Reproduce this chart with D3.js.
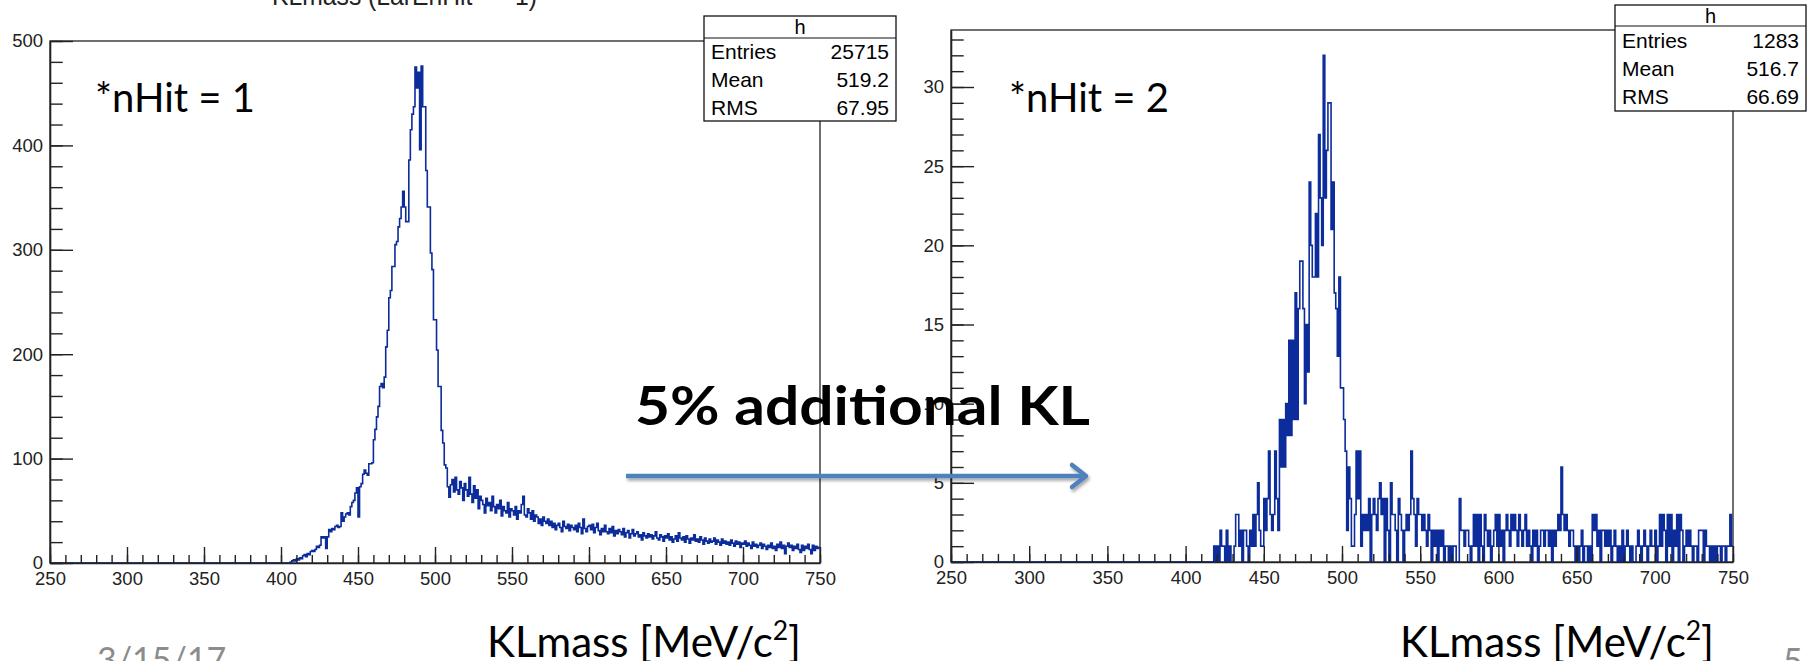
<!DOCTYPE html>
<html>
<head>
<meta charset="utf-8">
<script src="https://cdn.jsdelivr.net/npm/d3@7"></script>
<style>
  body { margin: 0; background: #fff; }
</style>
</head>
<body>
<div id="chart"></div>
<script>
// KLmass histograms, 1 MeV bins from 250 to 750
const xTicks = [250, 300, 350, 400, 450, 500, 550, 600, 650, 700, 750];

// nHit = 1, first non-empty bin at 406
const leftStart = 406;
const leftRise = [
  1, 2, 3, 2,
  4, 3, 5, 4, 7, 8, 6, 9, 8, 11,
  12, 11, 13, 16, 15, 17, 25, 24, 25, 14,
  25, 32, 30, 33, 32, 35, 36, 34, 35, 48,
  40, 44, 47, 48, 46, 54, 58, 60, 67, 72,
  44, 73, 76, 85, 89, 86, 84, 95, 95, 96,
  118, 128, 140, 150, 169, 172, 168, 178, 207, 223,
  254, 261, 284, 284, 305, 308, 322, 330, 341, 356
];
const leftPeak = [
  341, 327, 327, 386, 415, 430, 437, 475, 455, 470,
  396, 476, 437, 437, 376, 341, 341, 297, 281, 233,
  233, 204, 169, 169, 127, 115, 94, 91, 73, 63
];
const leftTail = [
  75, 80, 68, 82, 70, 66, 78, 72, 60, 76,
  70, 64, 82, 66, 58, 74, 62, 70, 52, 64,
  60, 56, 48, 62, 55, 58, 50, 64, 54, 48,
  56, 52, 60, 45, 54, 50, 48, 58, 44, 52,
  50, 46, 54, 42, 50, 48, 56, 64, 46, 44,
  52, 48, 42, 50, 40, 46, 44, 38, 42, 36,
  44, 40, 38, 42, 36, 40, 34, 38, 32, 36,
  38, 34, 30, 40, 35, 33, 37, 31, 36, 34,
  32, 36, 30, 38, 34, 28, 42, 33, 30, 35,
  36, 32, 37, 29, 34, 38, 31, 27, 33, 30,
  36, 30, 28, 33, 29, 35, 26, 31, 28, 32,
  30, 27, 33, 25, 29, 31, 24, 28, 32, 26,
  28, 30, 25, 27, 22, 29, 26, 24, 28, 25,
  27, 23, 26, 30, 24, 22, 27, 25, 21, 26,
  24, 28, 22, 25, 20, 23, 26, 21, 29, 24,
  22, 25, 20, 26, 23, 19, 24, 22, 27, 21,
  23, 20, 25, 22, 18, 24, 21, 19, 23, 20,
  21, 24, 18, 22, 20, 17, 23, 19, 21, 18,
  20, 17, 22, 19, 16, 21, 18, 20, 15, 19,
  18, 21, 16, 19, 17, 14, 20, 16, 18, 15,
  17, 19, 14, 18, 16, 13, 17, 15, 19, 14,
  16, 12, 18, 15, 20, 14, 17, 9, 16, 19,
  15, 17, 12, 16, 14, 18, 13, 10, 17, 12,
  16, 14, 18, 13, 9, 17, 12, 16, 14, 15
];

// nHit = 2, first non-empty bin at 418
const rightStart = 418;
const rightRise = [
  1, 0,
  1, 0, 2, 1, 1, 0, 2, 0, 1, 0,
  0, 1, 3, 3, 1, 2, 0, 2, 2, 1,
  0, 2, 1, 3, 1, 3, 5, 2, 1, 1,
  4, 2, 4, 7, 3, 2, 3, 7, 4, 2
];
const rightPeak = [
  9, 6, 9, 6, 10, 8, 14, 8, 14, 9,
  17, 9, 16, 19, 19, 16, 10, 15, 12, 24,
  20, 18, 18, 22, 18, 27, 23, 20, 32, 23,
  26, 29, 29, 21, 24, 17, 16, 13, 18, 11,
  11, 9, 7, 2, 6, 4, 1, 1, 3, 7
];
const rightTail = [
  4, 7, 1, 3, 2, 3, 2, 4, 0, 3,
  4, 3, 2, 4, 5, 3, 4, 0, 4, 2,
  0, 5, 3, 3, 2, 0, 4, 3, 2, 0,
  2, 3, 2, 3, 7, 4, 3, 1, 4, 3,
  3, 2, 3, 2, 1, 3, 2, 0, 2, 1,
  2, 0, 2, 1, 2, 0, 1, 1, 0, 1,
  0, 1, 1, 0, 0, 4, 2, 2, 1, 2,
  2, 1, 0, 1, 3, 1, 3, 0, 3, 1,
  0, 3, 2, 1, 2, 0, 1, 2, 3, 1,
  3, 1, 2, 0, 2, 3, 2, 1, 3, 2,
  3, 2, 1, 3, 2, 1, 2, 3, 1, 2,
  1, 0, 2, 1, 2, 0, 1, 2, 2, 1,
  2, 2, 1, 2, 0, 2, 1, 2, 3, 2,
  6, 3, 2, 3, 2, 1, 2, 2, 1, 0,
  1, 0, 1, 2, 0, 1, 1, 0, 1, 0,
  3, 2, 3, 1, 2, 0, 2, 2, 1, 2,
  1, 2, 0, 1, 2, 1, 0, 1, 0, 2,
  0, 1, 2, 1, 0, 1, 0, 0, 1, 2,
  1, 0, 1, 2, 1, 0, 1, 2, 1, 1,
  2, 0, 1, 3, 1, 3, 2, 0, 3, 1,
  3, 0, 2, 1, 3, 0, 3, 2, 0, 1,
  2, 1, 2, 1, 0, 1, 1, 0, 2, 2,
  2, 0, 2, 1, 1, 0, 1, 0, 1, 0,
  1, 1, 0, 1, 1, 0, 1, 1, 3, 1
];

const statNames = ['Entries', 'Mean', 'RMS'];
const leftStats = ['25715', '519.2', '67.95'];
const rightStats = ['1283', '516.7', '66.69'];

const histColor = '#0b2c9a';
const axisFont = "'Liberation Sans', Arial, sans-serif";
const slideFont = "Lato, 'Open Sans', sans-serif";

const svg = d3.select('#chart').append('svg')
  .attr('width', 1818)
  .attr('height', 661)
  .style('display', 'block');

function toBins(start, counts) {
  return d3.range(250, 750).map(v => {
    const i = v - start;
    return { v, c: i >= 0 && i < counts.length ? counts[i] : 0 };
  });
}

function drawPanel(p) {
  const x = d3.scaleLinear().domain([250, 750]).range([p.left, p.right]);
  const y = d3.scaleLinear().domain([0, p.ymax]).range([p.bottom, p.top]);
  const g = svg.append('g');

  // frame
  g.append('rect')
    .attr('x', p.left).attr('y', p.top)
    .attr('width', p.right - p.left).attr('height', p.bottom - p.top)
    .attr('fill', 'none').attr('stroke', '#222').attr('stroke-width', 1.3);

  // histogram outline
  const bins = toBins(p.start, p.counts);
  const pts = bins.concat([{ v: 750, c: bins[bins.length - 1].c }]);
  g.append('path')
    .datum(pts)
    .attr('fill', 'none')
    .attr('stroke', histColor)
    .attr('stroke-width', 1.6)
    .attr('d', d3.line().x(d => x(d.v)).y(d => y(d.c)).curve(d3.curveStepAfter));

  // x axis: minor then major
  g.append('g')
    .attr('transform', `translate(0,${p.bottom})`)
    .call(d3.axisBottom(x).tickValues(d3.range(250, 751, 10)).tickSize(-8).tickFormat(''))
    .call(a => a.select('.domain').remove());
  g.append('g')
    .attr('transform', `translate(0,${p.bottom})`)
    .call(d3.axisBottom(x).tickValues(xTicks).tickSizeInner(-16).tickSizeOuter(0).tickPadding(9).tickFormat(d3.format('d')))
    .call(a => a.select('.domain').attr('stroke', '#222').attr('stroke-width', 1.6));

  // y axis
  g.append('g')
    .attr('transform', `translate(${p.left},0)`)
    .call(d3.axisLeft(y).tickValues(p.yMinor).tickSize(-12.7).tickFormat(''))
    .call(a => a.select('.domain').remove());
  g.append('g')
    .attr('transform', `translate(${p.left},0)`)
    .call(d3.axisLeft(y).tickValues(p.yMajor).tickSizeInner(-23).tickSizeOuter(0).tickPadding(7).tickFormat(d3.format('d')))
    .call(a => a.select('.domain').attr('stroke', '#222').attr('stroke-width', 1.6));

  svg.selectAll('.tick line').attr('stroke', '#222').attr('stroke-width', 1.4);
  g.selectAll('.tick text')
    .attr('fill', '#222')
    .style('font-family', axisFont)
    .style('font-size', '18.5px');

  // stats box
  const b = p.box;
  const sb = svg.append('g');
  sb.append('rect')
    .attr('x', b.x).attr('y', b.y).attr('width', b.w).attr('height', b.h)
    .attr('fill', '#fff').attr('stroke', '#111').attr('stroke-width', 1.3);
  sb.append('line')
    .attr('x1', b.x).attr('x2', b.x + b.w)
    .attr('y1', b.y + b.head).attr('y2', b.y + b.head)
    .attr('stroke', '#111').attr('stroke-width', 1.2);
  sb.append('text')
    .attr('x', b.x + b.w / 2).attr('y', b.y + b.head / 2)
    .attr('dy', '0.35em').attr('text-anchor', 'middle')
    .style('font-family', axisFont).style('font-size', '20px')
    .text('h');
  const rowH = (b.h - b.head) / 3;
  statNames.forEach((name, i) => {
    const cy = b.y + b.head + rowH * (i + 0.5);
    sb.append('text')
      .attr('x', b.x + 7).attr('y', cy).attr('dy', '0.35em')
      .style('font-family', axisFont).style('font-size', '21px')
      .text(name);
    sb.append('text')
      .attr('x', b.x + b.w - 7).attr('y', cy).attr('dy', '0.35em')
      .attr('text-anchor', 'end')
      .style('font-family', axisFont).style('font-size', '21px')
      .text(p.stats[i]);
  });

  // nHit label
  svg.append('text')
    .attr('x', p.labelX).attr('y', 112)
    .style('font-family', slideFont).style('font-size', '40px')
    .attr('fill', '#000')
    .text(p.label);

  // x title (cut by the bottom edge, as on the slide)
  const t = svg.append('text')
    .attr('x', p.titleX).attr('y', 657)
    .attr('textLength', 314).attr('lengthAdjust', 'spacingAndGlyphs')
    .style('font-family', slideFont).style('font-size', '43px')
    .attr('fill', '#000');
  t.append('tspan').text('KLmass [MeV/c');
  t.append('tspan').attr('dy', -17).style('font-size', '27px').text('2');
  t.append('tspan').attr('dy', 17).text(']');
}

drawPanel({
  left: 50, right: 820, top: 41, bottom: 563,
  ymax: 500,
  yMajor: d3.range(0, 501, 100),
  yMinor: d3.range(0, 501, 20),
  start: leftStart,
  counts: leftRise.concat(leftPeak, leftTail),
  box: { x: 704, y: 16, w: 192, h: 105, head: 22 },
  stats: leftStats,
  label: '*nHit = 1', labelX: 95,
  titleX: 487
});

drawPanel({
  left: 951, right: 1733, top: 30, bottom: 562,
  ymax: 33.6,
  yMajor: d3.range(0, 31, 5),
  yMinor: d3.range(0, 34, 1),
  start: rightStart,
  counts: rightRise.concat(rightPeak, rightTail),
  box: { x: 1615, y: 5, w: 191, h: 106, head: 21 },
  stats: rightStats,
  label: '*nHit = 2', labelX: 1009,
  titleX: 1400
});

// cut-off histogram title at the very top
svg.append('text')
  .attr('x', 272).attr('y', 5)
  .attr('textLength', 265).attr('lengthAdjust', 'spacingAndGlyphs')
  .style('font-family', axisFont).style('font-size', '28px')
  .attr('fill', '#222')
  .text('KLmass (LarEnHit == 1)');

// slide annotation: arrow + text
const defs = svg.append('defs');
const sh = defs.append('filter').attr('id', 'shadow').attr('x', '-5%').attr('y', '-50%').attr('width', '110%').attr('height', '200%');
sh.append('feDropShadow').attr('dx', 1.5).attr('dy', 2.5).attr('stdDeviation', 1.5)
  .attr('flood-color', '#000').attr('flood-opacity', 0.35);

const arrow = svg.append('g').attr('filter', 'url(#shadow)');
arrow.append('line')
  .attr('x1', 626).attr('x2', 1082).attr('y1', 476).attr('y2', 476)
  .attr('stroke', '#4f81bd').attr('stroke-width', 4.5);
arrow.append('path')
  .attr('d', 'M1072,465 L1086,476 L1072,487')
  .attr('fill', 'none').attr('stroke', '#4f81bd').attr('stroke-width', 4.5)
  .attr('stroke-linecap', 'round').attr('stroke-linejoin', 'round');

svg.append('text')
  .attr('x', 635).attr('y', 425)
  .attr('textLength', 455).attr('lengthAdjust', 'spacingAndGlyphs')
  .style('font-family', slideFont).style('font-size', '54px').style('font-weight', 700)
  .attr('fill', '#000')
  .text('5% additional KL');

// footer
svg.append('text')
  .attr('x', 97).attr('y', 672)
  .style('font-family', slideFont).style('font-size', '34px')
  .attr('fill', '#8c8c8c')
  .text('3/15/17');
svg.append('text')
  .attr('x', 1783).attr('y', 673)
  .style('font-family', slideFont).style('font-size', '34px')
  .attr('fill', '#8c8c8c')
  .text('5');
</script>
</body>
</html>
